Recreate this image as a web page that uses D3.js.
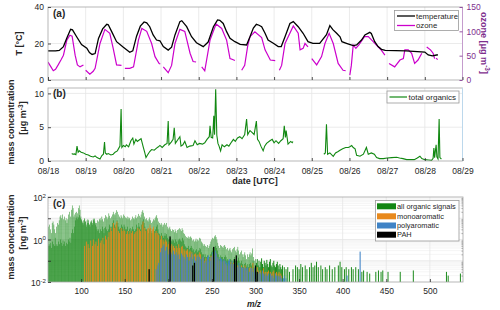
<!DOCTYPE html>
<html><head><meta charset="utf-8">
<script src="https://cdn.jsdelivr.net/npm/d3@7"></script>
<style>body{margin:0;background:#fff}svg{font-family:"Liberation Sans",Arial,Helvetica,sans-serif}</style>
</head><body><svg id="chart" width="500" height="310"></svg>
<script>
// ---------- data ----------
const dayLabels = ["08/18","08/19","08/20","08/21","08/22","08/23","08/24","08/25","08/26","08/27","08/28","08/29"];
const tempTicks = [0,20,40];
const ozoneTicks = [0,50,100,150];
const orgTicks = [0,5,10];
const mzTicks = [100,150,200,250,300,350,400,450,500];
const logTickExp = [-2,0,2];

// (a) temperature, time in days since 08/18 00:00 UTC
const tempTime = [0,0.2,0.3,0.41,0.5,0.6,0.65,0.76,0.89,1.03,1.1,1.17,1.25,1.34,1.45,1.56,1.6,1.69,1.82,2.0,2.17,2.25,2.35,2.45,2.55,2.62,2.7,2.79,2.88,2.97,3.06,3.19,3.28,3.37,3.5,3.55,3.68,3.81,3.94,4.12,4.25,4.39,4.5,4.56,4.65,4.74,4.83,4.96,5.1,5.27,5.36,5.45,5.53,5.6,5.67,5.76,5.84,5.98,6.11,6.19,6.29,6.42,6.51,6.64,6.77,6.9,7.03,7.21,7.39,7.48,7.56,7.66,7.75,7.8,7.92,8.0,8.1,8.19,8.32,8.41,8.54,8.58,8.67,8.76,8.85,8.95,9.5,10.0,10.09,10.2,10.31,10.35];
const tempVal = [16,16,16.2,18.3,23,27.8,27.5,23.7,19.4,17.4,15,14,14.5,22.8,28,30.5,30.3,26.5,21,17.9,15.2,16,24,29.5,31.8,31.3,29.2,24.7,21.9,21.5,18.3,16.4,18,24.7,32,32.5,29.2,23.7,20.4,18.3,20.8,29.2,32.9,32.7,31,26.5,22.8,21,19.5,19.2,23.7,28.5,30.5,30,29.2,25.6,21.9,20.1,18.3,18.3,23.7,31,32,29.2,25.6,21,20.1,20.1,24.8,29.8,27.6,25.6,23.7,21,20.1,19.5,18.8,19.2,21.9,24.7,26.1,25.5,21,18.3,16.8,16.2,16.0,15.3,13.7,13.2,13.7,13.8];

// (a) ozone (null = gap)
const ozoneTime = [0,0.07,0.14,0.2,0.27,0.35,0.41,0.5,0.58,0.64,0.72,0.78,0.85,0.94,0.97,
 1.0,1.11,1.2,1.25,1.38,1.51,1.64,1.73,1.82,1.95,1.99,
 2.04,2.17,2.27,2.4,2.49,2.62,2.75,2.84,2.95,2.98,3.02,
 3.06,3.19,3.28,3.37,3.5,3.63,3.77,3.85,3.93,4.0,
 4.08,4.16,4.3,4.46,4.61,4.74,4.83,4.9,4.96,5.05,
 5.14,5.22,5.3,5.36,5.49,5.67,5.76,5.9,6.03,6.08,
 6.14,6.2,6.29,6.51,6.64,6.69,6.77,6.82,6.9,6.95,
 7.0,7.13,7.26,7.35,7.46,7.57,7.7,7.83,7.9,7.95,
 8.01,8.05,8.1,8.17,8.25,8.4,8.5,8.63,8.76,8.85,8.94,9.0,
 9.05,9.2,9.34,9.43,9.47,9.56,9.65,9.73,9.82,9.92,9.99,
 10.05,10.15,10.22,10.26,10.28,
 10.3,10.34];
const ozoneVal = [37,28,19,22,31,42,51,82,92,90,51,31,27,31,null,
 20,12,18,24,75,104,96,65,31,30,null,
 24,24,27,82,106,100,75,48,34,33,null,
 27,15,30,75,104,100,55,38,37,null,
 27,19,82,115,106,82,44,42,40,null,
 20,30,70,89,99,87,62,41,40,null,
 20,30,75,111,96,62,65,75,68,null,
 44,31,48,75,96,75,34,20,19,null,
 10,30,72,65,72,89,89,79,68,61,51,null,
 34,27,41,44,62,62,55,34,41,55,null,
 68,62,55,44,null,
 45,42];

// (b) total organics [ug m-3]
const orgTime = [0.63,0.66,0.7,0.74,0.77,0.8,0.83,0.88,0.94,1.0,1.07,1.13,1.2,1.25,1.3,1.38,1.43,1.47,1.5,1.52,1.56,1.6,1.67,1.73,1.78,1.84,1.91,1.94,1.96,2.0,2.05,2.08,2.14,2.2,2.25,2.28,2.33,2.37,2.42,2.47,2.53,2.57,2.6,2.64,2.7,2.75,2.82,2.88,2.93,2.97,3.03,3.1,3.16,3.19,3.21,3.27,3.32,3.35,3.38,3.44,3.5,3.53,3.58,3.63,3.69,3.76,3.85,3.9,3.96,4.02,4.1,4.16,4.22,4.28,4.3,4.33,4.37,4.4,4.42,4.45,4.48,4.51,4.54,4.58,4.62,4.68,4.75,4.8,4.87,4.92,4.97,5.03,5.09,5.15,5.22,5.27,5.3,5.36,5.42,5.47,5.53,5.56,5.6,5.65,5.71,5.75,5.8,5.89,5.95,6.0,6.05,6.12,6.18,6.24,6.27,6.3,6.32,6.37,6.44,6.48,6.5,
 6.9,
 7.32,7.36,7.39,7.42,7.48,7.57,7.63,7.7,7.75,7.82,7.9,7.97,8.01,8.06,8.1,8.15,8.19,8.28,8.37,8.45,8.5,8.58,8.66,8.72,8.8,8.9,9.0,9.12,9.25,9.33,9.42,9.52,9.62,9.72,9.8,9.87,9.92,10.0,10.1,10.18,10.22,10.24,10.26,10.3,10.32,10.35,10.38,10.4,10.44];
const orgVal = [1.1,1.0,1.05,0.95,2.2,1.3,1.5,1.3,1.2,1.0,0.9,0.7,0.6,0.75,0.5,0.3,0.8,1.0,2.8,1.2,1.0,1.1,0.9,1.0,1.3,1.5,2.2,7.7,2.0,2.3,2.1,2.4,2.1,3.0,3.4,2.5,3.2,2.9,3.1,3.3,2.0,1.2,0.5,0.9,1.4,1.7,1.6,1.9,2.1,2.3,2.0,2.4,2.6,5.9,2.4,2.8,3.2,4.9,2.6,3.1,3.6,2.2,2.4,2.9,2.0,2.2,2.3,3.0,2.4,2.6,2.5,2.7,3.2,3.6,5.2,3.5,3.4,6.7,3.9,10.6,3.8,2.6,2.2,1.5,2.4,2.1,2.4,2.2,2.8,3.2,2.9,3.4,3.6,3.3,3.9,6.2,3.9,4.5,4.2,3.9,5.9,3.2,2.9,2.2,1.5,2.2,2.6,3.0,3.2,2.7,3.0,2.6,3.0,3.3,5.2,3.5,4.5,2.5,2.9,2.7,2.9,
 null,
 1.0,1.2,5.45,1.0,1.2,0.7,1.2,1.4,1.6,1.8,2.0,2.0,2.1,2.3,2.0,1.8,0.85,0.7,1.0,2.0,1.0,1.2,1.0,0.5,0.35,0.35,0.45,0.5,0.55,0.45,0.35,0.2,0.2,0.2,0.45,0.7,0.35,0.2,0.15,0.1,0.4,1.9,0.5,2.4,0.6,0.3,6.2,0.5,0.3];

// (c) mass spectrum [ng m-3], nominal m/z from mzFirst upwards
const mzFirst = 62;
const orgMain = [
 0.6,4,5,3,2,6,7,5,3,2,
 4,6,5,8,12,14,10,15,9,12,
 8,10,6,9,15,20,12,25,40,30,
 12,15,18,20,17,30,40,25,12,9,
 6,8,10,7,5,8,9,6,5,7,
 8,6,9,10,7,5,6,8,7,9,
 10,8,12,9,7,10,14,12,9,11,
 17,13,10,12,15,20,16,14,18,24,
 20,15,12,10,14,12,10,15,13,11,
 10,12,9,11,10,8,9,12,10,9,
 11,14,10,12,16,13,11,15,20,24,
 18,12,9,10,8,7,9,11,8,6,
 7,9,8,10,12,14,10,7,6,5,
 6,5,4,5,6,5,6,4,3,3.5,
 4,3,2.5,3,2.8,2.2,3,2.5,2,2.8,
 3,3.4,3,2.5,3.4,2.8,2,1.8,1.5,1.3,
 1.2,1.4,1.1,1.3,1.4,1.2,0.9,1,0.8,0.9,
 1.1,0.8,1,0.9,1.2,1.1,0.8,0.7,0.6,0.5,
 0.6,0.5,0.45,0.55,0.4,0.5,0.6,0.8,1,1.2,
 1.1,1.4,1.6,1.3,1,0.7,0.5,0.4,0.55,0.5,
 0.45,0.4,0.5,0.55,0.45,0.35,0.4,0.3,0.35,0.4,
 0.3,0.25,0.35,0.4,0.45,0.3,0.25,0.35,0.45,0.3,
 0.2,0.25,0.3,0.2,0.15,0.2,0.25,0.18,0.12,0.2,
 0.15,0.2,0.25,0.18,0.22,0.38,0.15,0.1,0.12];
const orgSecond = [
 0.5,0.6,0.5,0.7,0.4,0.8,0.6,0.5,1.2,0.5,
 0.6,0.5,0.8,0.6,1,0.7,0.5,0.9,0.6,0.8,
 0.5,0.7,0.6,1,0.8,1.2,0.7,2,3,2,
 4,8,10,12,9,11,14,10,8,7,
 5,6,9,7,4,6,8,5,4,6,
 7,5,8,9,6,4,3,2.5,3,2,
 3,2.5,4,3,2,3.5,4,3,2.5,3,
 5,4,3,4,6,8,5,4,6,8,
 6,4,3,3.5,5,4,3,5,4,3,
 3,4,2.5,3,3.5,2.5,3,4,3,2.5,
 3,5,3,4,6,4,3,5,7,9,
 6,4,3,3,2.5,2,3,3.5,2.5,2,
 2,3,2.5,3,4,5,3,2,1.8,1.5,
 2,1.5,1.2,1.5,2,1.5,1.8,1.2,1,1.1,
 1.2,0.9,0.8,1,0.9,0.7,1,0.8,0.6,0.9,
 1,1.1,0.9,0.8,1.2,0.9,0.6,0.5,0.45,0.4,
 0.4,0.5,0.35,0.4,0.5,0.4,0.3,0.35,0.25,0.3,
 0.35,0.25,0.3,0.3,0.4,0.35,0.25,0.2,0.2,0.15,
 0.2,0.15,0.15,0.18,0.12,0.15,0.2,0.25,0.3,0.4,
 0.35,0.45,0.5,0.4,0.3,0.2,0.15,0.12,0.18,0.15,
 0.15,0.12,0.15,0.18,0.15,0.1,0.12,0.1,0.1,0.12,
 0.1,0.08,0.1,0.12,0.15,0.1,0.08,0.1,0.14,0.1,
 0.07,0.08,0.1,0.07,0.05,0.07,0.08,0.06,0.05,0.07,
 0.05,0.07,0.08,0.06,0.07,0.1,0.05,0.04,0.05];
const highMz = [301,302,303,304,305,306,307,308,309,310,311,312,313,314,315,316,317,318,319,320,321,322,323,324,325,326,327,328,329,330,331,333,335,337,339,343,346,348,350,352,354,357,359,362,364,366,368,370,372,375,377,380,382,385,388,391,395,397,399,402,404,407,410,412,415,418,422,424,428,431,438,441,444,446,452,466,481,519,521,535];
const highVal = [0.08,0.12,0.06,0.1,0.05,0.09,0.13,0.07,0.05,0.1,0.08,0.06,0.11,0.07,0.05,0.09,0.12,0.06,0.05,0.08,0.1,0.06,0.05,0.07,0.09,0.06,0.04,0.07,0.05,0.04,0.06,0.05,0.04,0.05,0.03,0.04,0.06,0.05,0.04,0.07,0.05,0.06,0.04,0.05,0.08,0.05,0.06,0.09,0.05,0.06,0.04,0.05,0.04,0.06,0.04,0.05,0.06,0.09,0.05,0.04,0.05,0.04,0.05,0.04,0.05,0.04,0.03,0.035,0.03,0.025,0.03,0.035,0.03,0.035,0.03,0.03,0.035,0.03,0.02,0.025];

const monoFirst = 104;
const monoVal = [
 0.5,0,0.8,0,0.6,0.4,0,0.9,0,0.5,
 1.0,0,0.6,0.8,0,0.5,1.1,0,0.7,0.9,
 0,1.2,0.6,0,1.5,1.0,0,1.3,2.2,0,
 3.5,2.5,0,6,3.5,0,5,7,0,2.5,
 2,0,3.5,2.5,0,3,2.5,0,1.8,2.5,
 0,1.8,2.5,0,2,2.5,0,1.8,2.2,0,
 2.5,3.5,0,3,2.5,0,5,7,0,3.5,
 2.5,0,3,3.5,0,5,3.5,0,3,4,
 0,2,2.5,0,2,1.6,0,1,1.5,0,
 1,0.8,0,1,0.8,0,0.6,0.8,0,0.5,
 0.6,0,0.5,0.4,0,0.5,0.4,0,0.6,0.4,
 0,0.45,0.5,0,0.35,0.3,0,0.3,0.35,0,
 0.25,0.3,0,0.25,0.2,0,0.2,0.22,0,0.18,
 0.2,0,0.25,0.2,0,0.13,0.15,0,0.1,0.13,
 0,0.12,0.09,0,0.13,0.17,0,0.2,0.17,0,
 0.25,0.2,0,0.13,0.1,0,0.1,0.09,0,0.09,
 0.1,0,0.07,0.06,0,0.07,0.06,0,0.09,0.07,
 0,0.08,0.09,0,0.05,0.06,0,0.06,0.045,0,
 0.06,0.045,0,0.05,0.06,0,0.035,0.045,0,0.045,
 0.05,0,0.045,0.08,0,0.035,0.045,0,0.05,0.035,
 0,0.03,0.035,0,0.03,0.045,0,0.03,0.03,0,
 0.03,0.035,0,0.03,0.025,0,0.03,0.035,0,0.025,
 0.03,0,0.025,0.03,0,0.025,0.02];
const polyFirst = 185;
const polyVal = [
 0,0.04,0,0.06,0.08,0,0.25,0.4,0,0.5,
 0.6,0,0.3,0.45,0,0.2,0.35,0,0.25,0.2,
 0,0.3,0.2,0,0.25,0.18,0,0.2,0.12,0,
 0.22,0.18,0,0.15,0.12,0,0.2,0.15,0,0.1,
 0.15,0,0.22,0.12,0,0.16,0.1,0,0.15,0.18,
 0,0.15,0.12,0,0.14,0.16,0,0.08,0.1,0,
 0.15,0.18,0,0.1,0.15,0,0.25,0.2,0,0.3,
 0.22,0,0.15,0.12,0,0.14,0.12,0,0.1,0.12,
 0,0.1,0.08,0,0.1,0.12,0,0.07,0.1,0,
 0.07,0.08,0,0.07,0.05,0,0.08,0.06,0,0.05,
 0.045,0,0.05,0.045,0,0.045,0.05,0,0.03,0.045,
 0,0.045,0.03,0,0.045,0.03,0,0.03,0.025,0,
 0.03,0.025,0,0.035,0.025,0,0.02,0.025,0,0.02,
 0.025,0,0.025,0.02,0,0.02,0.015,0,0.025,0.02,
 0,0.02,0.018,0,0.02,0.015,0,0.015,0.02,0,0.015];
const polyExtraMz = [405,420];
const polyExtraVal = [0.02,0.27];
const pahMz = [178,202,228,230,252,276,278,300,302];
const pahVal = [0.04,1.4,0.06,0.08,0.45,0.12,0.18,0.06,0.03];

// ---------- drawing ----------
const svg = d3.select("#chart");
const FONT = 8.5, TXT = "#262626", GRID = "#e6e6e6", BOX = "#a6a6a6";
const cGreen = "#138613", cOrange = "#e8891c", cBlue = "#3f83c6";
const cTemp = "#000000", cOzone = "#cc00cc", cOrgLine = "#118811", cPurple = "#7e2f8e";

const x = d3.scaleLinear().domain([0, 11]).range([48, 462.5]);
const A = {top: 7, bottom: 80}, B = {top: 88, bottom: 161}, C = {top: 197, bottom: 282};
const yT = d3.scaleLinear().domain([0, 40]).range([A.bottom, A.top]);
const yO = d3.scaleLinear().domain([0, 150]).range([A.bottom, A.top]);
const yC = d3.scaleLinear().domain([0, 10.8]).range([B.bottom, B.top]);
const xm = d3.scaleLinear().domain([62, 538]).range([48, 463]);
const yL = d3.scaleLog().domain([0.01, 100]).range([C.bottom, C.top]);

function styleAxis(g, color) {
  g.select(".domain").remove();
  g.selectAll(".tick line").attr("stroke", color || TXT).attr("stroke-width", 0.8);
  g.selectAll(".tick text").attr("fill", color || TXT).attr("font-size", FONT);
}
function sup(sel, base, s, after, dyUp) {
  sel.append("tspan").text(base);
  sel.append("tspan").attr("dy", -dyUp).attr("font-size", "0.72em").text(s);
  if (after) sel.append("tspan").attr("dy", dyUp).text(after);
}

// clip paths
const defs = svg.append("defs");
[["ca", A, x.range()], ["cb", B, x.range()], ["cc", C, xm.range()]].forEach(([id, P, r]) => {
  defs.append("clipPath").attr("id", id).append("rect")
    .attr("x", r[0]).attr("y", P.top).attr("width", r[1] - r[0]).attr("height", P.bottom - P.top);
});

// ---- grids panels a,b
const days = d3.range(0, 12);
[[A, yT, [20]], [B, yC, [5, 10]]].forEach(([P, ys, hv]) => {
  const g = svg.append("g");
  g.selectAll("line.v").data(days.slice(1, -1)).join("line")
    .attr("x1", d => x(d)).attr("x2", d => x(d)).attr("y1", P.top).attr("y2", P.bottom)
    .attr("stroke", GRID).attr("stroke-width", 0.8);
  g.selectAll("line.h").data(hv).join("line")
    .attr("x1", x(0)).attr("x2", x(11)).attr("y1", d => ys(d)).attr("y2", d => ys(d))
    .attr("stroke", GRID).attr("stroke-width", 0.8);
});

// ---- panel a lines
const gA = svg.append("g").attr("clip-path", "url(#ca)");
const tempData = tempTime.map((t, i) => [t, tempVal[i]]);
const ozData = ozoneTime.map((t, i) => [t, ozoneVal[i]]);
gA.append("path").datum(ozData)
  .attr("d", d3.line().defined(d => d[1] != null).x(d => x(d[0])).y(d => yO(d[1])))
  .attr("fill", "none").attr("stroke", cOzone).attr("stroke-width", 1.2);
gA.append("path").datum(tempData)
  .attr("d", d3.line().x(d => x(d[0])).y(d => yT(d[1])))
  .attr("fill", "none").attr("stroke", cTemp).attr("stroke-width", 1.3);

// ---- panel b line
const gB = svg.append("g").attr("clip-path", "url(#cb)");
const orgData = orgTime.map((t, i) => [t, orgVal[i]]);
gB.append("path").datum(orgData)
  .attr("d", d3.line().defined(d => d[1] != null).x(d => x(d[0])).y(d => yC(d[1])))
  .attr("fill", "none").attr("stroke", cOrgLine).attr("stroke-width", 1.1);

// ---- frames a,b
svg.append("rect").attr("x", x(0)).attr("y", A.top).attr("width", x(11) - x(0)).attr("height", A.bottom - A.top)
  .attr("fill", "none").attr("stroke", BOX).attr("stroke-width", 0.8);
svg.append("line").attr("x1", x(11)).attr("x2", x(11)).attr("y1", A.top).attr("y2", A.bottom)
  .attr("stroke", "#c49ccd").attr("stroke-width", 1);
svg.append("rect").attr("x", x(0)).attr("y", B.top).attr("width", x(11) - x(0)).attr("height", B.bottom - B.top)
  .attr("fill", "none").attr("stroke", BOX).attr("stroke-width", 0.8);
svg.append("line").attr("x1", x(11)).attr("x2", x(11)).attr("y1", B.top).attr("y2", B.bottom)
  .attr("stroke", "#bcd8ec").attr("stroke-width", 1);

// axes a
svg.append("g").attr("transform", `translate(${x(0)},0)`)
  .call(d3.axisLeft(yT).tickValues(tempTicks).tickSize(-3).tickPadding(4)).call(g => styleAxis(g));
svg.append("g").attr("transform", `translate(${x(11)},0)`)
  .call(d3.axisRight(yO).tickValues(ozoneTicks).tickSize(-3).tickPadding(4)).call(g => styleAxis(g, cPurple));
svg.append("g").attr("transform", `translate(0,${A.bottom})`)
  .call(d3.axisBottom(x).tickValues(days).tickFormat("").tickSize(-3)).call(g => styleAxis(g));
// axes b
svg.append("g").attr("transform", `translate(${x(0)},0)`)
  .call(d3.axisLeft(yC).tickValues(orgTicks).tickSize(-3).tickPadding(4)).call(g => styleAxis(g));
svg.append("g").attr("transform", `translate(0,${B.bottom})`)
  .call(d3.axisBottom(x).tickValues(days).tickFormat(i => dayLabels[i]).tickSize(-3).tickPadding(6.5))
  .call(g => styleAxis(g));

// ---- panel c grid
const gC0 = svg.append("g");
const minor = [];
for (let e = -2; e < 2; e++) for (let m = 2; m < 10; m++) minor.push(m * Math.pow(10, e));
gC0.selectAll("line.mn").data(minor).join("line")
  .attr("x1", xm(62)).attr("x2", xm(538)).attr("y1", d => yL(d)).attr("y2", d => yL(d))
  .attr("stroke", "#f1f1f1").attr("stroke-width", 0.7);
gC0.selectAll("line.mj").data([0.1, 1, 10]).join("line")
  .attr("x1", xm(62)).attr("x2", xm(538)).attr("y1", d => yL(d)).attr("y2", d => yL(d))
  .attr("stroke", GRID).attr("stroke-width", 0.8);
gC0.selectAll("line.v").data(mzTicks).join("line")
  .attr("x1", d => xm(d)).attr("x2", d => xm(d)).attr("y1", C.top).attr("y2", C.bottom)
  .attr("stroke", GRID).attr("stroke-width", 0.8);

// ---- panel c bars
const gC = svg.append("g").attr("clip-path", "url(#cc)");
const base = yL(0.01);
const unit = xm(1) - xm(0);
function bars(data, xOf, w, color) {
  gC.append("g").selectAll("rect").data(data.filter(d => d.v > 0)).join("rect")
    .attr("x", d => xOf(d)).attr("width", w)
    .attr("y", d => yL(d.v)).attr("height", d => base - yL(d.v))
    .attr("fill", color);
}
bars(orgMain.map((v, i) => ({mz: mzFirst + i, v})), d => xm(d.mz - 0.5), unit * 0.56, cGreen);
bars(orgSecond.map((v, i) => ({mz: mzFirst + i, v})), d => xm(d.mz - 0.06), unit * 0.56, cGreen);
bars(highMz.map((m, i) => ({mz: m, v: highVal[i]})), d => xm(d.mz - 0.55), unit * 1.1, cGreen);
bars(monoVal.map((v, i) => ({mz: monoFirst + i, v})), d => xm(d.mz - 0.5), unit, cOrange);
bars(polyVal.map((v, i) => ({mz: polyFirst + i, v})), d => xm(d.mz - 0.5), unit, cBlue);
bars(polyExtraMz.map((m, i) => ({mz: m, v: polyExtraVal[i]})), d => xm(d.mz - 0.6), unit * 1.2, cBlue);
bars(pahMz.map((m, i) => ({mz: m, v: pahVal[i]})), d => xm(d.mz - 0.7), unit * 1.4, "#000");

// frame c
svg.append("rect").attr("x", xm(62)).attr("y", C.top).attr("width", xm(538) - xm(62)).attr("height", C.bottom - C.top)
  .attr("fill", "none").attr("stroke", BOX).attr("stroke-width", 0.8);
svg.append("g").attr("transform", `translate(0,${C.bottom})`)
  .call(d3.axisBottom(xm).tickValues(mzTicks).tickFormat(d3.format("d")).tickSize(-3).tickPadding(6))
  .call(g => styleAxis(g));
svg.append("g").attr("transform", `translate(${xm(62)},0)`)
  .call(d3.axisLeft(yL).tickValues([0.01, 0.1, 1, 10, 100]).tickFormat("").tickSize(-3)).call(g => styleAxis(g));
svg.append("g").attr("transform", `translate(${xm(538)},0)`)
  .call(d3.axisRight(yL).tickValues(minor).tickFormat("").tickSize(-1.5)).call(g => styleAxis(g, "#999"));
logTickExp.forEach(e => {
  const t = svg.append("text").attr("x", 46).attr("y", yL(Math.pow(10, e)) + 4)
    .attr("text-anchor", "end").attr("font-size", FONT).attr("fill", TXT);
  sup(t, "10", String(e), null, 3.5);
});

// ---- panel labels
[["(a)", 17], ["(b)", 97], ["(c)", 207]].forEach(([s, y]) => {
  svg.append("text").attr("x", 53).attr("y", y).attr("font-size", 10).attr("font-weight", "bold")
    .attr("fill", TXT).text(s);
});

// ---- axis titles
const LBL = 9;
svg.append("text").attr("transform", "translate(22,43.5) rotate(-90)").attr("text-anchor", "middle")
  .attr("font-size", LBL).attr("font-weight", "bold").attr("fill", TXT).text("T [°C]");
const oz = svg.append("text").attr("transform", "translate(481,43) rotate(90)").attr("text-anchor", "middle")
  .attr("font-size", LBL).attr("font-weight", "bold").attr("fill", cPurple);
sup(oz, "ozone [μg m", "-3", "]", 3.5);
svg.append("text").attr("transform", "translate(14,122) rotate(-90)").attr("text-anchor", "middle")
  .attr("font-size", LBL).attr("font-weight", "bold").attr("fill", TXT).text("mass concentration");
const ub = svg.append("text").attr("transform", "translate(26,118) rotate(-90)").attr("text-anchor", "middle")
  .attr("font-size", LBL).attr("font-weight", "bold").attr("fill", TXT);
sup(ub, "[μg m", "-3", "]", 3.5);
svg.append("text").attr("x", 255).attr("y", 184).attr("text-anchor", "middle")
  .attr("font-size", LBL).attr("font-weight", "bold").attr("fill", TXT).text("date [UTC]");
svg.append("text").attr("transform", "translate(14,237) rotate(-90)").attr("text-anchor", "middle")
  .attr("font-size", LBL).attr("font-weight", "bold").attr("fill", TXT).text("mass concentration");
const uc = svg.append("text").attr("transform", "translate(26,233) rotate(-90)").attr("text-anchor", "middle")
  .attr("font-size", LBL).attr("font-weight", "bold").attr("fill", TXT);
sup(uc, "[ng m", "-3", "]", 3.5);
svg.append("text").attr("x", 254).attr("y", 307).attr("text-anchor", "middle")
  .attr("font-size", 8.5).attr("font-weight", "bold").attr("font-style", "italic").attr("fill", TXT).text("m/z");

// ---- legends
function legendBox(x0, y0, w, h) {
  svg.append("rect").attr("x", x0).attr("y", y0).attr("width", w).attr("height", h)
    .attr("fill", "#fff").attr("stroke", "#9a9a9a").attr("stroke-width", 0.8);
}
legendBox(394.5, 10.5, 64, 20);
[["temperature", cTemp, 16], ["ozone", cOzone, 25.5]].forEach(([s, c, y]) => {
  svg.append("line").attr("x1", 397).attr("x2", 415).attr("y1", y).attr("y2", y).attr("stroke", c).attr("stroke-width", 1.3);
  svg.append("text").attr("x", 416).attr("y", y + 2.8).attr("font-size", 7.8).attr("fill", TXT).text(s);
});
legendBox(387, 91, 72, 12);
svg.append("line").attr("x1", 389.5).attr("x2", 407).attr("y1", 97).attr("y2", 97).attr("stroke", cOrgLine).attr("stroke-width", 1.2);
svg.append("text").attr("x", 408.5).attr("y", 99.8).attr("font-size", 8).attr("fill", TXT).text("total organics");
legendBox(375.5, 200.5, 83.5, 40.5);
[["all organic signals", cGreen, 206.3], ["monoaromatic", cOrange, 216.3], ["polyaromatic", cBlue, 225.5], ["PAH", "#000", 234.7]]
  .forEach(([s, c, y]) => {
    svg.append("rect").attr("x", 377).attr("y", y - 3).attr("width", 19).attr("height", 6).attr("fill", c);
    svg.append("text").attr("x", 397).attr("y", y + 2.6).attr("font-size", 7.4).attr("fill", TXT).text(s);
  });
</script></body></html>
